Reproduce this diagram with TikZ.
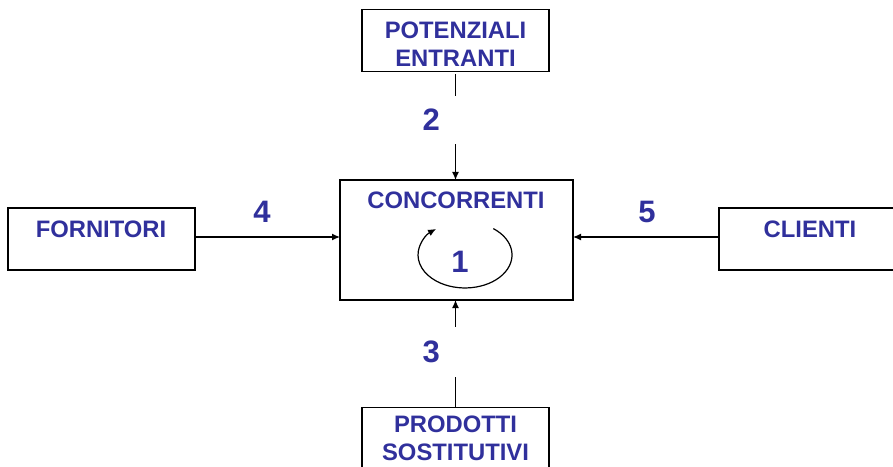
\documentclass[tikz,border=0pt]{standalone}
\usepackage{fontspec}
\setmainfont{Liberation Sans}
\definecolor{txtblue}{RGB}{48,48,156}
\usetikzlibrary{arrows}
\usetikzlibrary{arrows.meta}
\usetikzlibrary{positioning}
\tikzstyle{base}=[x=1pt, y=1pt, inner sep=0pt, outer sep=0pt]
\tikzstyle{box}=[draw=black, line width=1.6pt, minimum width=187pt, minimum height=62pt]
\tikzstyle{lbl}=[text=txtblue, font=\fontsize{23.8}{28}\selectfont\bfseries, align=center]
\tikzstyle{num}=[text=txtblue, font=\fontsize{31}{31}\selectfont\bfseries]
\tikzstyle{gap}=[num, fill=white, text width=40pt, anchor=west]
\tikzstyle{link}=[line width=1.2pt, -{Latex[length=8pt, width=7pt]}]

\begin{document}
\begin{tikzpicture}[base]
    \clip (0,0) rectangle (893,466);
    % boxes
    \node [box] (pot) at (455.5,425.5) {};
    \node [box, minimum width=233pt, minimum height=120pt] (conc) at (456.5,226) {};
    \node [box] (prod) at (455.5,27.5) {};
    \node [box] (forn) at (101.5,227) {};
    \node [box] (cli) at (812.5,227) {};
    \node [lbl] (pottxt) at (455.5,422) {POTENZIALI\\ENTRANTI};
    \node [lbl] (conctxt) at (456,266) {CONCORRENTI};
    \node [lbl] (prodtxt) at (455.5,27.5) {PRODOTTI\\SOSTITUTIVI};
    \node [lbl] (forntxt) at (101,237) {FORNITORI};
    \node [lbl] (clitxt) at (810,237) {CLIENTI};
    % forces
    \draw [link, shorten <=3pt] (pot.south) -- (pot.south |- conc.north);
    \draw [link] (prod.north) -- (prod.north |- conc.south);
    \draw [link] ([yshift=2pt]forn.east) -- ([yshift=2pt]forn.east -| conc.west);
    \draw [link] ([yshift=2pt]cli.west) -- ([yshift=2pt]cli.west -| conc.east);
    \node [gap, minimum height=48pt] (n2) at (422.5,346) {2};
    \node [gap, minimum height=50pt] (n3) at (422.5,114) {3};
    \node [num] (n4) at (262,254) {4};
    \node [num] (n5) at (647,254) {5};
    % rivalry
    \node [num] (n1) at (460,204) {1};
    \draw [link] (493.3,237.4) arc [start angle=53, end angle=-232, x radius=47pt, y radius=33pt];
\end{tikzpicture}
\end{document}
